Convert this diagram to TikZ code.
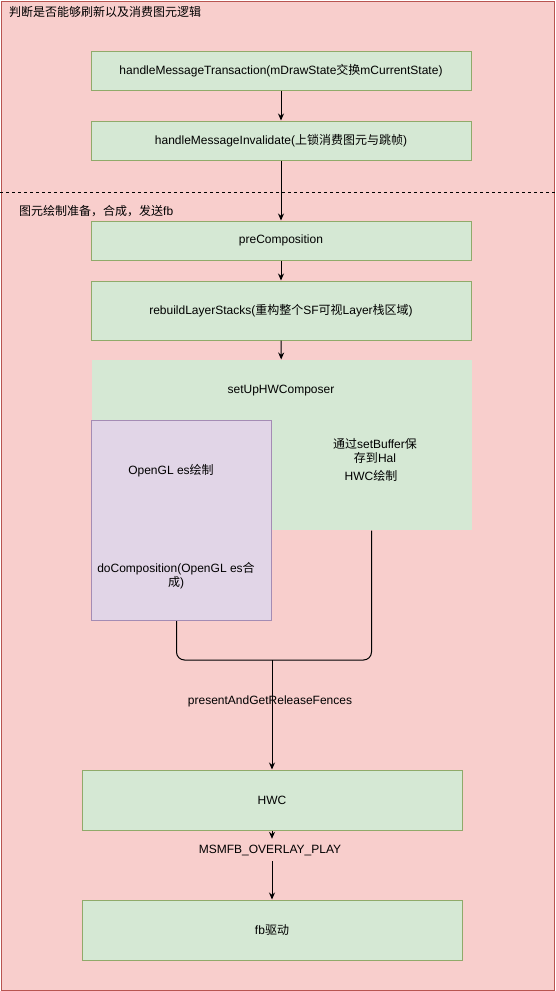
\documentclass[tikz,border=0pt]{standalone}
\usepackage{fontspec}
\setmainfont{Liberation Sans}
\newfontfamily\cjk{Noto Sans CJK SC}
\newcommand{\zh}[1]{{\cjk #1}}
\usetikzlibrary{arrows.meta}

\definecolor{panelfill}{HTML}{F8CECC}
\definecolor{panelline}{HTML}{B85450}
\definecolor{stepfill}{HTML}{D5E8D4}
\definecolor{stepline}{HTML}{90AA6A}
\definecolor{glfill}{HTML}{E1D5E7}
\definecolor{glline}{HTML}{A48CB4}

\tikzset{
  stepbox/.style={draw=stepline, fill=stepfill, line width=1pt, minimum width=380pt, minimum height=39pt, inner sep=0pt, font=\fontsize{12}{14}\selectfont},
  flow/.style={-{Stealth[length=7pt,width=6pt]}, line width=1pt},
  lbl/.style={font=\fontsize{12}{14}\selectfont, inner sep=0pt},
}

\begin{document}
\begin{tikzpicture}[x=1pt,y=-1pt]
    \useasboundingbox (0,0) rectangle (555,991);
    \draw[panelline, fill=panelfill, line width=1pt] (1,1) rectangle (554,990);
    \node[lbl, anchor=west] (title) at (9,12) {\zh{判断是否能够刷新以及消费图元逻辑}};
    \node[stepbox] (trans) at (281,70.5) {handleMessageTransaction(mDrawState\zh{交换}mCurrentState)};
    \node[stepbox] (inval) at (281,140.5) {handleMessageInvalidate(\zh{上锁消费图元与跳帧})};
    \draw[dash pattern=on 3pt off 3pt, line width=1pt] (0,192) -- (555,192);
    \node[lbl, anchor=west] (stage) at (19,211) {\zh{图元绘制准备，合成，发送}fb};
    \node[stepbox] (pre) at (281,240.5) {preComposition};
    \node[stepbox, minimum height=59pt] (rebuild) at (281,310.5) {rebuildLayerStacks(\zh{重构整个}SF\zh{可视}Layer\zh{栈区域})};
    % setUpHWComposer area and the OpenGL box on top of it
    \node[stepbox, draw=none, minimum height=170pt] (hwcset) at (281.5,445) {};
    \node[lbl] (hwcsettxt) at (281,391) {setUpHWComposer};
    \node[lbl, align=center] (halbuf) at (375,451) {\zh{通过}setBuffer\zh{保}\\\zh{存到}Hal};
    \node[lbl] (hwcdraw) at (371,476) {HWC\zh{绘制}};
    \node[draw=glline, fill=glfill, line width=1pt, minimum width=180pt, minimum height=200pt, inner sep=0pt] (gl) at (181.5,520.5) {};
    \node[lbl] (gldraw) at (171,471) {OpenGL es\zh{绘制}};
    \node[lbl, align=center] (glcomp) at (176,576) {doComposition(OpenGL es\zh{合}\\\zh{成})};
    \node[stepbox, minimum height=60pt] (hwc) at (272,800) {HWC};
    \node[lbl] (present) at (270,701) {presentAndGetReleaseFences};
    \node[lbl, minimum height=22pt] (msm) at (270,850) {MSMFB\_OVERLAY\_PLAY};
    \node[stepbox, minimum height=60pt] (fb) at (272,930) {fb\zh{驱动}};
    \draw[flow] (trans) -- (inval);
    \draw[flow] (inval) -- (pre);
    \draw[flow] (pre) -- (rebuild);
    \draw[flow] (rebuild) -- (hwcset);
    \coordinate (join) at (272,660);
    \draw[line width=1pt, rounded corners=8pt] ([xshift=-5pt]gl.south) |- (join) -| ([xshift=90pt]hwcset.south);
    \draw[flow] (join) -- (hwc.north);
    \draw[flow] (hwc.south) -- (hwc.south |- msm.north);
    \draw[flow] (hwc.south |- msm.south) -- (fb.north);
\end{tikzpicture}
\end{document}
